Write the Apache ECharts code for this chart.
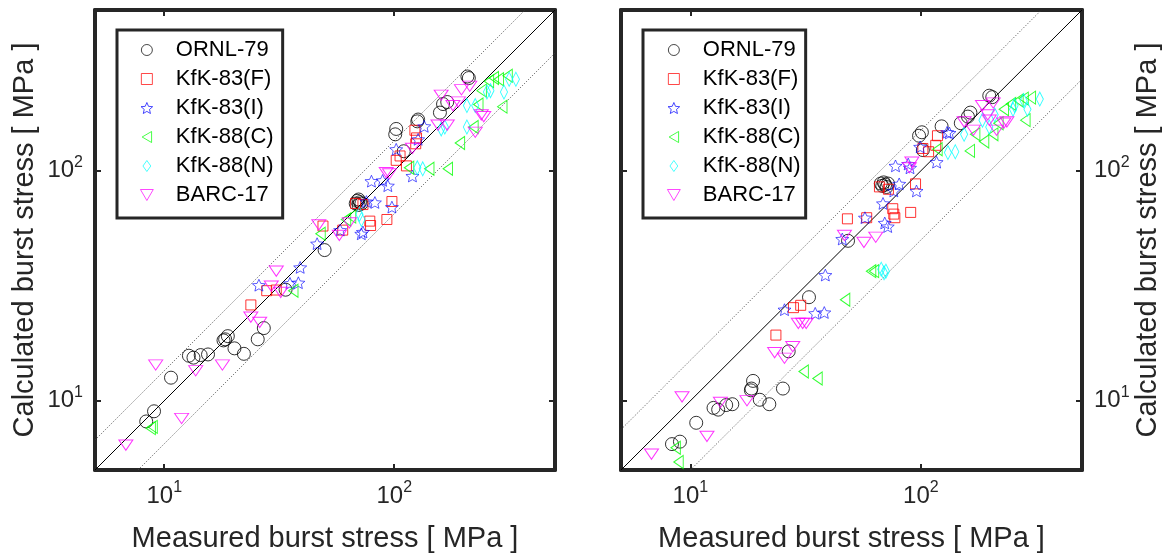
<!DOCTYPE html>
<html><head><meta charset="utf-8">
<script src="https://cdn.jsdelivr.net/npm/echarts@6/dist/echarts.min.js"></script>
<style>html,body{margin:0;padding:0;background:#fff}#c{width:1166px;height:558px}</style>
</head><body><div id="c"></div><script>
// ---------- data (measured, calculated) in MPa ----------
const seriesNames = ['ORNL-79', 'KfK-83(F)', 'KfK-83(I)', 'KfK-88(C)', 'KfK-88(N)', 'BARC-17'];
const tickExponents = [1, 2];
const axisRange = [5, 500];
const bandFactorsLeft = [1, 1.35, 0.65];
const bandFactorsRight = [1, 1.5, 0.5];

// Left panel
const ornl79_L = [[8.35,8.13],[9.03,9.0],[10.7,12.6],[12.8,15.7],[13.4,15.4],[14.4,15.8],[15.5,15.9],[18.1,18.3],[18.9,19.1],[18.4,18.5],[20.2,16.9],[22.2,16.0],[25.5,18.5],[27.1,20.7],[33.7,30.4],[49.8,45.2],[68,72],[69,74],[70,71],[71,73],[72,72],[70,75],[101,144],[102,152],[110,121.6],[127,167],[126,164],[158,179],[163,195],[170,199],[208,257],[211,253]];
const kfk83F_L = [[23.8,26.1],[27.9,30.1],[30.7,30.3],[49,57.5],[59.7,55.2],[67.9,72.1],[73.1,71.3],[78.3,60.4],[78.9,57.8],[92.9,61.4],[97.7,73.5],[102,111],[106,116],[113,105],[123,150],[124,131],[125,139]];
const kfk83I_L = [[25.8,31.8],[35.2,32.4],[38.3,32.6],[39,38.0],[46.2,48.2],[58.2,55.2],[73.1,54.2],[71.9,53.2],[75.7,73.5],[82.4,72.8],[79.6,90.1],[89,90.8],[93.8,86.1],[97.7,69.5],[102,124],[120,94.9],[127,137],[135,156]];
const kfk88C_L = [[8.73,7.6],[8.9,7.7],[36.4,30.1],[47.8,53.2],[61.7,61.4],[64.9,63.2],[116,103],[142,102],[171,102],[193,132],[221,155],[232,194],[240,223],[258,245],[271,253],[295,190],[311,259],[285,250]];
const kfk88N_L = [[70.6,64.7],[72,61.4],[126,103],[133,102],[160,152],[166,155],[207,155],[225,192],[253,220],[262,223],[300,220],[338,250],[316,250],[207,192]];
const barc17_L = [[6.81,6.41],[9.18,14.3],[11.9,8.37],[13.7,13.5],[17.9,14.3],[23.8,23.1],[26,21.9],[30.7,36.6],[29.2,31.5],[32.1,29.6],[47,58.2],[57.7,52.4],[63.8,59.3],[92.3,98.2],[95.3,97],[120,125],[160,213],[170,158],[180,192],[196,225],[213,233],[190,199],[225,147],[239,175],[245,172],[155,158]];

// Right panel
const ornl79_R = [[8.32,6.48],[9.01,6.64],[10.6,8.02],[12.6,9.31],[13.2,9.15],[14.3,9.58],[15.2,9.66],[18.4,11.3],[18.7,12.2],[18.3,11.1],[20,10.1],[22,9.66],[25.2,11.3],[26.7,16.4],[32.7,28.2],[48.3,49.6],[67,88],[68,86],[69,89],[70,87],[71,85],[72,88],[98.2,142],[101,147],[102,123],[123,156],[149,161],[160,172],[164,179],[198,212],[204,209]];
const kfk83F_R = [[23.5,19.3],[28,25.4],[30.1,26.0],[48,61.8],[58.2,62.5],[75.5,68.4],[76.3,64.8],[77.1,62.5],[90.3,65.9],[66.1,85.1],[72.3,83.1],[94.8,87.7],[102,125],[108,121],[116,129],[118,142]];
const kfk83I_R = [[25.6,24.9],[34.8,24.0],[38.1,24.2],[38.5,35.2],[45.6,50.5],[57.2,62.5],[68.5,72.1],[69.7,59.3],[71.8,57.2],[76.3,81.7],[80.5,87.7],[77.6,105],[88.1,107],[89.7,103],[95.7,81.7],[99.3,127],[117,109],[130,147],[133,146]];
const kfk88C_R = [[8.63,6.25],[8.88,5.42],[31,13.4],[35.6,12.5],[46.9,27.5],[60.8,36.6],[62.6,36.6],[118,124],[163,122],[188,134],[206,144],[217,161],[229,185],[246,195],[265,202],[279,206],[300,208],[284,166],[172,144]];
const kfk88N_R = [[67.3,37.3],[69.2,36.0],[70.5,36.6],[131,120],[141,121],[154,144],[185,166],[198,155],[209,175],[255,192],[279,202],[290,185],[328,205],[251,185]];
const barc17_R = [[6.78,5.86],[9.2,10.4],[11.8,7.0],[13.5,9.83],[17.6,10],[23.2,16.2],[25.6,15.3],[27.8,17.2],[29.4,21.7],[30.7,21.7],[31.8,21.7],[46.6,52.4],[56.6,48.8],[63.7,51.4],[89.1,103],[91.4,109],[154,163],[169,150],[185,192],[195,175],[206,197],[213,150],[229,161],[236,163],[198,166]];

// ---------- styling ----------
const FONT = '"Liberation Sans", Arial, Helvetica, sans-serif';
const AX = '#262626';
const colors = ['#000000', '#ff0000', '#0000ff', '#00ff00', '#00ffff', '#ff00ff'];
const symbols = [
  'circle',
  'path://M0,0 L10,0 L10,10 L0,10 Z',
  'path://M0,-10 L2.7,-3.7 L9.51,-3.09 L4.35,1.41 L5.88,8.09 L0,4.6 L-5.88,8.09 L-4.35,1.41 L-9.51,-3.09 L-2.7,-3.7 Z',
  'path://M0,7 L12,0 L12,14 Z',
  'path://M5,0 L10,7 L5,14 L0,7 Z',
  'path://M0,0 L14,0 L7,12 Z'
];
const sizes = [13, 10, [13, 12.4], [11, 13], [10, 14], [14, 12]];
const legendIconSize = 11;

function tickFmt(v) {
  const e = Math.log10(v);
  const r = Math.round(e);
  if (Math.abs(e - r) < 1e-6 && tickExponents.indexOf(r) >= 0) return '{b|10}{s|' + r + '}';
  return '';
}
const labelRich = {
  b: { fontSize: 24, fontFamily: FONT, color: AX },
  s: { fontSize: 16, fontFamily: FONT, color: AX, padding: [0, 0, 17, 0] }
};

function xAxisPair(grid) {
  const base = {
    type: 'log', logBase: 10, min: axisRange[0], max: axisRange[1], gridIndex: grid,
    splitLine: { show: false },
    axisLine: { show: true, onZero: false, lineStyle: { color: AX, width: 4 } },
    axisTick: { show: true, inside: true, length: 6, lineStyle: { color: AX, width: 2 } }
  };
  return [
    Object.assign({}, base, {
      position: 'bottom',
      axisLabel: { formatter: tickFmt, margin: 10, rich: labelRich },
      name: 'Measured burst stress [ MPa ]', nameLocation: 'middle', nameGap: 54,
      nameTextStyle: { fontSize: 29, fontFamily: FONT, color: AX }
    }),
    Object.assign({}, base, { position: 'top', axisLabel: { show: false } })
  ];
}
function yAxisPair(grid, labelSide) {
  const base = {
    type: 'log', logBase: 10, min: axisRange[0], max: axisRange[1], gridIndex: grid,
    splitLine: { show: false },
    axisLine: { show: true, onZero: false, lineStyle: { color: AX, width: 4 } },
    axisTick: { show: true, inside: true, length: 6, lineStyle: { color: AX, width: 2 } }
  };
  const labeled = Object.assign({}, base, {
    position: labelSide,
    axisLabel: { formatter: tickFmt, margin: 12, rich: labelRich },
    name: 'Calculated burst stress [ MPa ]', nameLocation: 'middle', nameGap: labelSide === 'left' ? 56 : 50,
    nameRotate: 90,
    nameTextStyle: { fontSize: 29, fontFamily: FONT, color: AX }
  });
  const plain = Object.assign({}, base, { position: labelSide === 'left' ? 'right' : 'left', axisLabel: { show: false } });
  return labelSide === 'left' ? [labeled, plain] : [plain, labeled];
}

function hollow(i, w) {
  return { color: 'rgba(0,0,0,0)', borderColor: colors[i], borderWidth: w };
}
function scatterSeries(datasets, xi, yi) {
  return datasets.map((d, i) => ({
    type: 'scatter', name: seriesNames[i], xAxisIndex: xi, yAxisIndex: yi,
    data: d, symbol: symbols[i], symbolSize: sizes[i], symbolKeepAspect: true,
    itemStyle: hollow(i, i === 2 ? 0.8 : 1),
    emphasis: { disabled: true }, silent: true, z: 3
  }));
}
function bandLines(factors, xi, yi) {
  return factors.map((k, i) => {
    const x0 = Math.max(axisRange[0], axisRange[0] / k);
    const x1 = Math.min(axisRange[1], axisRange[1] / k);
    return {
      type: 'line', xAxisIndex: xi, yAxisIndex: yi, data: [[x0, k * x0], [x1, k * x1]],
      symbol: 'none', silent: true, z: 2, clip: true,
      lineStyle: i === 0 ? { color: '#000', width: 1 } : { color: '#444', width: 0.8, type: [1.2, 1.6] }
    };
  });
}

function legendFor(left, padLeft, padRight) {
  return {
    orient: 'vertical', left: left, top: 30, selectedMode: false,
    data: seriesNames.map((n, i) => ({ name: n, icon: symbols[i], itemStyle: hollow(i, 0.9) })),
    padding: [9, padRight, 12, padLeft],
    borderColor: AX, borderWidth: 3, backgroundColor: '#fff',
    itemWidth: 48, itemHeight: legendIconSize, itemGap: 7, symbolKeepAspect: true,
    textStyle: { fontSize: 22, fontFamily: FONT, color: '#000', lineHeight: 22 },
    z: 10
  };
}

const xL = xAxisPair(0), xR = xAxisPair(1);
const yL = yAxisPair(0, 'left'), yR = yAxisPair(1, 'right');

const option = {
  animation: false,
  backgroundColor: '#fff',
  grid: [
    { left: 95, top: 10, width: 460, height: 462 },
    { left: 621, top: 10, width: 461, height: 462 }
  ],
  xAxis: [xL[0], xL[1], xR[0], xR[1]],
  yAxis: [yL[0], yL[1], yR[0], yR[1]],
  legend: [legendFor(117, 23, 9), legendFor(643, 24, 5)],
  series: [].concat(
    bandLines(bandFactorsLeft, 0, 0),
    scatterSeries([ornl79_L, kfk83F_L, kfk83I_L, kfk88C_L, kfk88N_L, barc17_L], 0, 0),
    bandLines(bandFactorsRight, 2, 3),
    scatterSeries([ornl79_R, kfk83F_R, kfk83I_R, kfk88C_R, kfk88N_R, barc17_R], 2, 3)
  )
};
const chart = echarts.init(document.getElementById('c'), null, { renderer: 'canvas' });
chart.setOption(option);
</script></body></html>
